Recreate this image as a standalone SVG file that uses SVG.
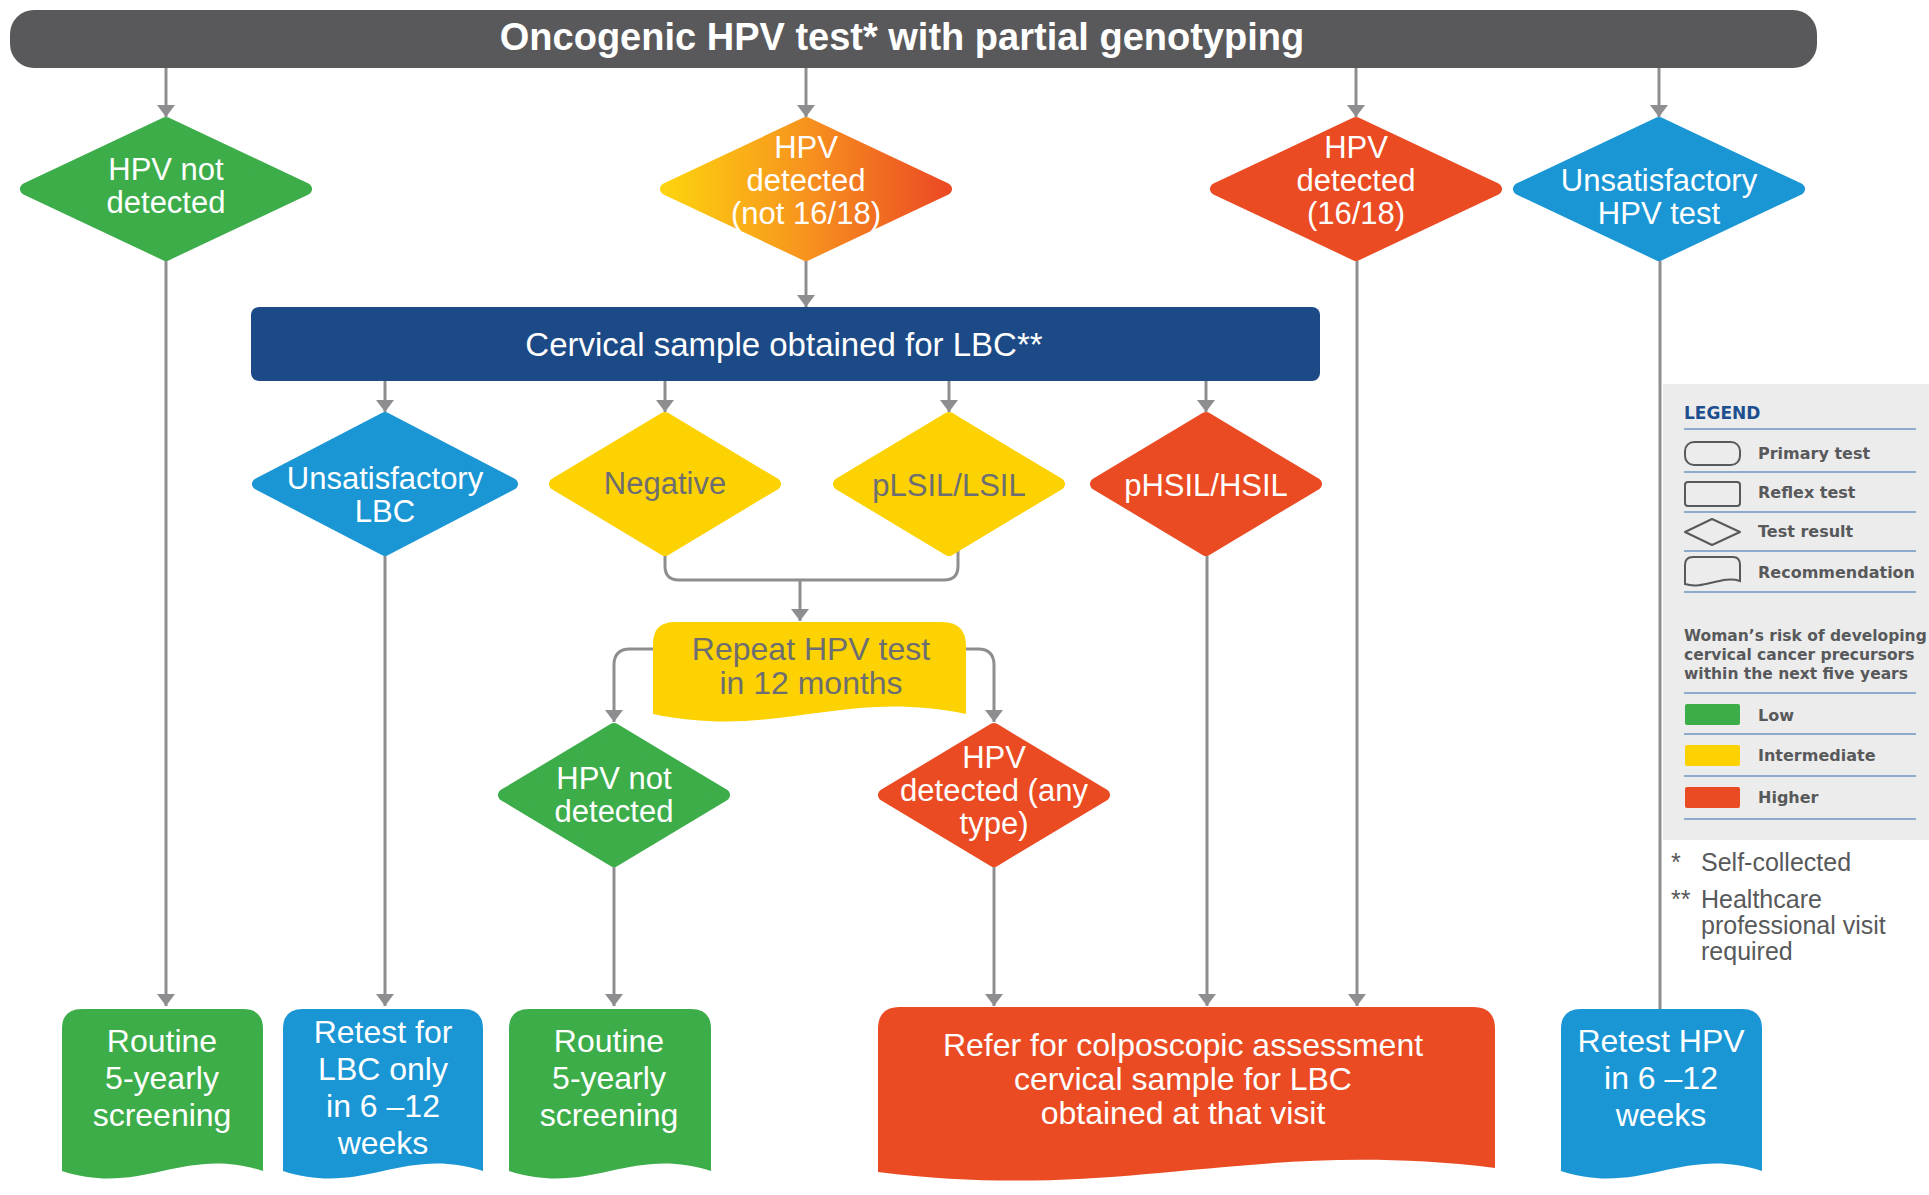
<svg xmlns="http://www.w3.org/2000/svg" width="1929" height="1195" viewBox="0 0 1929 1195">
<defs>
<style>
.conn{stroke:#8e8e90;stroke-width:3;fill:none}
.dia{stroke-width:12;stroke-linejoin:round}
.g{fill:#3dad4a;stroke:#3dad4a}
.b{fill:#1a96d5;stroke:#1a96d5}
.r{fill:#ea4b23;stroke:#ea4b23}
.y{fill:#fdd202;stroke:#fdd202}
.o{fill:url(#og);stroke:url(#og)}
.bx{stroke:none}
.t{font-family:"Liberation Sans",Arial,sans-serif;font-size:31px;fill:#fff;text-anchor:middle}
.tb{font-size:32px}
.tl{font-size:33px}
.dk{fill:#6d6e71}
.lg{font-family:"DejaVu Sans",Verdana,sans-serif;font-weight:bold;font-size:16px;fill:#58595b}
.lw{font-size:15.5px}
.ll{stroke:#7196c2;stroke-width:1.5}
.li{fill:none;stroke:#58595b;stroke-width:2}
.fn{font-family:"Liberation Sans",Arial,sans-serif;font-size:25px;fill:#58595b}
</style>
<linearGradient id="og" x1="0" y1="0" x2="1" y2="0">
<stop offset="0" stop-color="#fdd20e"/>
<stop offset="0.5" stop-color="#f7931e"/>
<stop offset="1" stop-color="#ec4a24"/>
</linearGradient>
<marker id="ah" viewBox="0 0 12 18" markerWidth="12" markerHeight="18" refX="12" refY="9" orient="auto" markerUnits="userSpaceOnUse">
<path d="M0,0 L12,9 L0,18 Z" fill="#8e8e90"/>
</marker>
</defs>
<rect width="1929" height="1195" fill="#ffffff"/>

<g id="legend">
<rect x="1663" y="384" width="266" height="456" fill="#ececec"/>
<text x="1684" y="419" font-family="DejaVu Sans,Verdana,sans-serif" font-weight="bold" font-size="17" fill="#1d4f8f">LEGEND</text>
<line class="ll" x1="1684" y1="429" x2="1916" y2="429"/>
<rect class="li" x="1685" y="442" width="55" height="23" rx="9"/>
<text class="lg" x="1758" y="459">Primary test</text>
<line class="ll" x1="1684" y1="472" x2="1916" y2="472"/>
<rect class="li" x="1685" y="482" width="55" height="24" rx="3"/>
<text class="lg" x="1758" y="498">Reflex test</text>
<line class="ll" x1="1684" y1="512" x2="1916" y2="512"/>
<polygon class="li" points="1685,532 1712,519 1740,532 1712,545" stroke-linejoin="round"/>
<text class="lg" x="1758" y="537">Test result</text>
<line class="ll" x1="1684" y1="551" x2="1916" y2="551"/>
<path class="li" d="M1685,584 V565 Q1685,557 1693,557 H1733 Q1740,557 1740,565 V581 C1722,575 1703,590 1685,584 Z"/>
<text class="lg" x="1758" y="578">Recommendation</text>
<line class="ll" x1="1684" y1="592" x2="1916" y2="592"/>
<text class="lg lw" x="1684" y="641">Woman’s risk of developing</text>
<text class="lg lw" x="1684" y="660">cervical cancer precursors</text>
<text class="lg lw" x="1684" y="679">within the next five years</text>
<line class="ll" x1="1684" y1="693" x2="1916" y2="693"/>
<rect x="1685" y="704" width="55" height="21" rx="2" fill="#3dad4a"/>
<text class="lg" x="1758" y="721">Low</text>
<line class="ll" x1="1684" y1="734" x2="1916" y2="734"/>
<rect x="1685" y="745" width="55" height="21" rx="2" fill="#fdd202"/>
<text class="lg" x="1758" y="761">Intermediate</text>
<line class="ll" x1="1684" y1="776" x2="1916" y2="776"/>
<rect x="1685" y="787" width="55" height="21" rx="2" fill="#ea4b23"/>
<text class="lg" x="1758" y="803">Higher</text>
<line class="ll" x1="1684" y1="819" x2="1916" y2="819"/>
</g>

<g id="footnotes">
<text class="fn" x="1671" y="871">*</text>
<text class="fn" x="1701" y="871">Self-collected</text>
<text class="fn" x="1671" y="908">**</text>
<text class="fn" x="1701" y="908">Healthcare</text>
<text class="fn" x="1701" y="934">professional visit</text>
<text class="fn" x="1701" y="960">required</text>
</g>

<g id="connectors">
<path class="conn" marker-end="url(#ah)" d="M166,68 V117"/>
<path class="conn" marker-end="url(#ah)" d="M806,68 V117"/>
<path class="conn" marker-end="url(#ah)" d="M1356,68 V117"/>
<path class="conn" marker-end="url(#ah)" d="M1659,68 V117"/>
<path class="conn" marker-end="url(#ah)" d="M806,261 V307"/>
<path class="conn" marker-end="url(#ah)" d="M385,381 V412"/>
<path class="conn" marker-end="url(#ah)" d="M665,381 V412"/>
<path class="conn" marker-end="url(#ah)" d="M949,381 V412"/>
<path class="conn" marker-end="url(#ah)" d="M1206,381 V412"/>
<path class="conn" d="M665,552 V566 Q665,580 679,580 H944 Q958,580 958,566 V550"/>
<path class="conn" marker-end="url(#ah)" d="M800,580 V621"/>
<path class="conn" marker-end="url(#ah)" d="M655,649 H630 Q614,649 614,665 V722"/>
<path class="conn" marker-end="url(#ah)" d="M964,649 H978 Q994,649 994,665 V722"/>
<path class="conn" marker-end="url(#ah)" d="M166,261 V1006"/>
<path class="conn" marker-end="url(#ah)" d="M385,555 V1006"/>
<path class="conn" marker-end="url(#ah)" d="M614,867 V1006"/>
<path class="conn" marker-end="url(#ah)" d="M994,867 V1006"/>
<path class="conn" marker-end="url(#ah)" d="M1207,556 V1006"/>
<path class="conn" marker-end="url(#ah)" d="M1357,261 V1006"/>
<path class="conn" d="M1660,261 V1010"/>
</g>

<g id="header">
<rect x="10" y="10" width="1807" height="58" rx="24" fill="#59595b"/>
<text x="902" y="50" font-family="Liberation Sans,Arial,sans-serif" font-weight="bold" font-size="38" fill="#fff" text-anchor="middle">Oncogenic HPV test* with partial genotyping</text>
</g>

<g id="hpv-not-detected">
<polygon class="dia g" points="166,123 306,189 166,255 26,189"/>
<text class="t"><tspan x="166" y="180">HPV not</tspan><tspan x="166" y="213">detected</tspan></text>
</g>
<g id="hpv-detected-not-16-18">
<polygon class="dia o" points="806,123 946,189 806,255 666,189"/>
<text class="t"><tspan x="806" y="158">HPV</tspan><tspan x="806" y="191">detected</tspan><tspan x="806" y="224">(not 16/18)</tspan></text>
</g>
<g id="hpv-detected-16-18">
<polygon class="dia r" points="1356,123 1496,189 1356,255 1216,189"/>
<text class="t"><tspan x="1356" y="158">HPV</tspan><tspan x="1356" y="191">detected</tspan><tspan x="1356" y="224">(16/18)</tspan></text>
</g>
<g id="unsatisfactory-hpv">
<polygon class="dia b" points="1659,123 1799,189 1659,255 1519,189"/>
<text class="t"><tspan x="1659" y="191">Unsatisfactory</tspan><tspan x="1659" y="224">HPV test</tspan></text>
</g>

<g id="lbc">
<rect x="251" y="307" width="1069" height="74" rx="8" fill="#1c4a86"/>
<text class="t tl" x="784" y="356">Cervical sample obtained for LBC**</text>
</g>

<g id="unsatisfactory-lbc">
<polygon class="dia b" points="385,418 512,484 385,550 258,484"/>
<text class="t"><tspan x="385" y="489">Unsatisfactory</tspan><tspan x="385" y="522">LBC</tspan></text>
</g>
<g id="negative">
<polygon class="dia y" points="665,418 775,484 665,550 555,484"/>
<text class="t dk" x="665" y="494">Negative</text>
</g>
<g id="plsil">
<polygon class="dia y" points="949,418 1059,484 949,550 839,484"/>
<text class="t dk" x="949" y="496">pLSIL/LSIL</text>
</g>
<g id="phsil">
<polygon class="dia r" points="1206,418 1316,484 1206,550 1096,484"/>
<text class="t" x="1206" y="496">pHSIL/HSIL</text>
</g>

<g id="repeat">
<path class="y bx" d="M653,714 V644 Q653,622 675,622 H942 Q966,622 966,646 V714 C841,688 778,740 653,714 Z"/>
<text class="t tb dk"><tspan x="811" y="660">Repeat HPV test</tspan><tspan x="811" y="694">in 12 months</tspan></text>
</g>

<g id="hpv-not-detected-2">
<polygon class="dia g" points="614,729 724,795 614,861 504,795"/>
<text class="t"><tspan x="614" y="789">HPV not</tspan><tspan x="614" y="822">detected</tspan></text>
</g>
<g id="hpv-detected-any">
<polygon class="dia r" points="994,729 1104,795 994,861 884,795"/>
<text class="t"><tspan x="994" y="768">HPV</tspan><tspan x="994" y="801">detected (any</tspan><tspan x="994" y="834">type)</tspan></text>
</g>

<g id="routine-1">
<path class="g bx" d="M62,1171 V1029 Q62,1009 82,1009 H243 Q263,1009 263,1029 V1171 C183,1145 142,1197 62,1171 Z"/>
<text class="t tb"><tspan x="162" y="1052">Routine</tspan><tspan x="162" y="1089">5-yearly</tspan><tspan x="162" y="1126">screening</tspan></text>
</g>
<g id="retest-lbc">
<path class="b bx" d="M283,1171 V1029 Q283,1009 303,1009 H463 Q483,1009 483,1029 V1171 C403,1145 363,1197 283,1171 Z"/>
<text class="t tb"><tspan x="383" y="1043">Retest for</tspan><tspan x="383" y="1080">LBC only</tspan><tspan x="383" y="1117">in 6 –12</tspan><tspan x="383" y="1154">weeks</tspan></text>
</g>
<g id="routine-2">
<path class="g bx" d="M509,1171 V1029 Q509,1009 529,1009 H691 Q711,1009 711,1029 V1171 C630,1145 590,1197 509,1171 Z"/>
<text class="t tb"><tspan x="609" y="1052">Routine</tspan><tspan x="609" y="1089">5-yearly</tspan><tspan x="609" y="1126">screening</tspan></text>
</g>
<g id="refer">
<path class="r bx" d="M878,1172 V1029 Q878,1007 900,1007 H1473 Q1495,1007 1495,1029 V1168 C1248,1138 1125,1203 878,1172 Z"/>
<text class="t tb"><tspan x="1183" y="1056">Refer for colposcopic assessment</tspan><tspan x="1183" y="1090">cervical sample for LBC</tspan><tspan x="1183" y="1124">obtained at that visit</tspan></text>
</g>
<g id="retest-hpv">
<path class="b bx" d="M1561,1171 V1029 Q1561,1009 1581,1009 H1742 Q1762,1009 1762,1029 V1171 C1682,1145 1641,1197 1561,1171 Z"/>
<text class="t tb"><tspan x="1661" y="1052">Retest HPV</tspan><tspan x="1661" y="1089">in 6 –12</tspan><tspan x="1661" y="1126">weeks</tspan></text>
</g>
</svg>
